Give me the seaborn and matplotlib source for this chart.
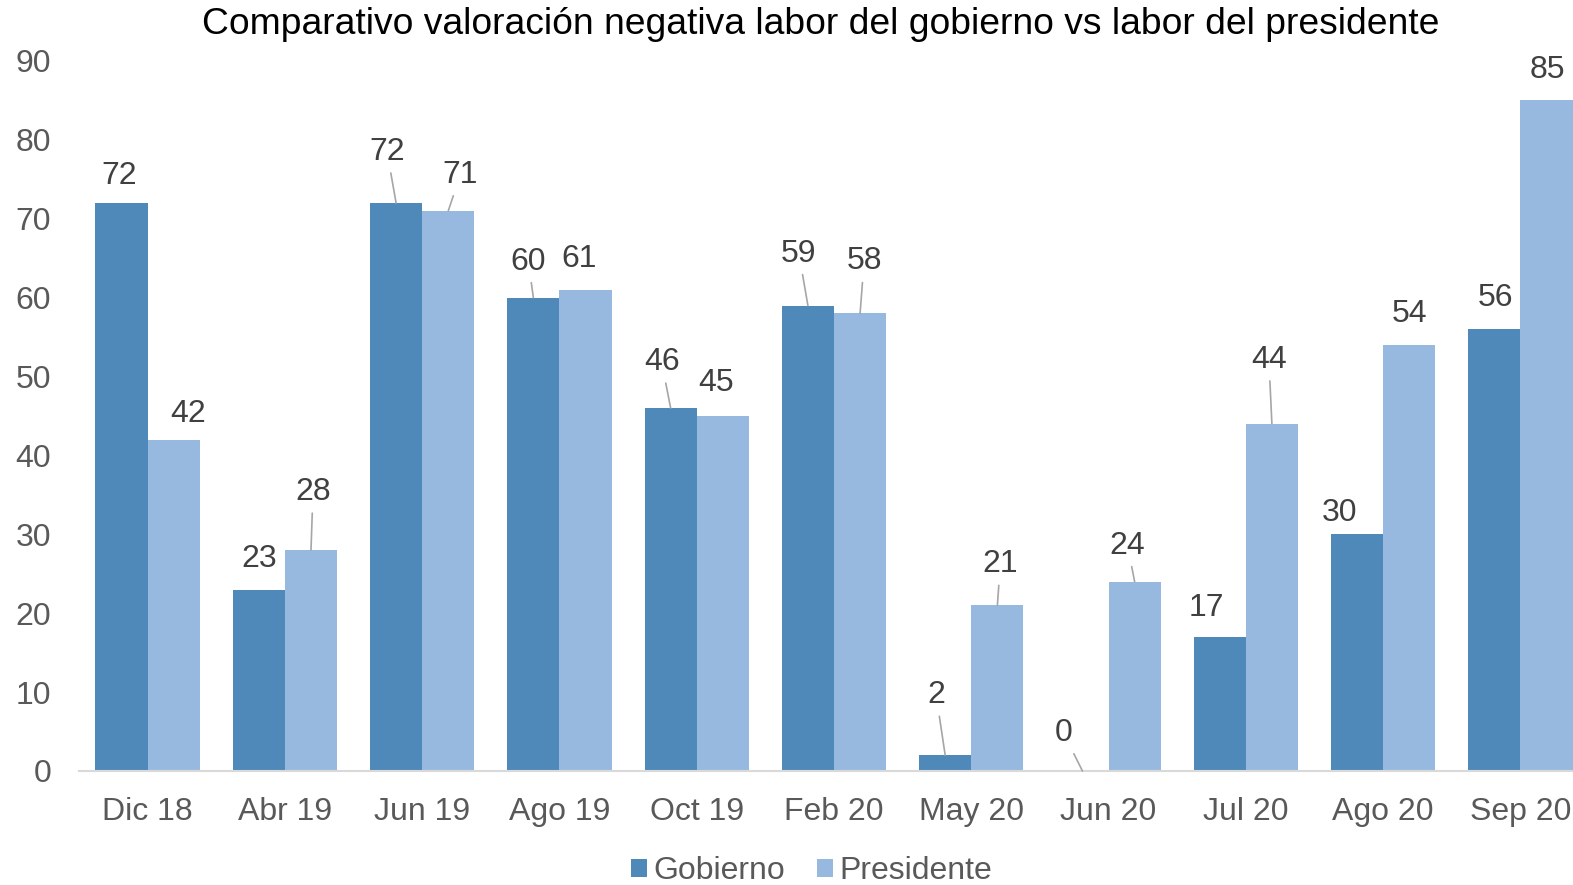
import numpy as np
import pandas as pd
import seaborn as sns
from matplotlib import pyplot as plt

periodos = ['Dic 18', 'Abr 19', 'Jun 19', 'Ago 19', 'Oct 19', 'Feb 20',
            'May 20', 'Jun 20', 'Jul 20', 'Ago 20', 'Sep 20']
gobierno = [72, 23, 72, 60, 46, 59, 2, 0, 17, 30, 56]
presidente = [42, 28, 71, 61, 45, 58, 21, 24, 44, 54, 85]
series = ['Gobierno', 'Presidente']
colores = {'Gobierno': '#4F89BA', 'Presidente': '#98B9DF'}

# label offsets in pixels (dx, dy) and whether a leader line is drawn
off_gob = [(-2, 25, 0), (0, 29, 0), (-9, 49, 1), (-5, 34, 1), (-9, 44, 1), (-9, 50, 1),
           (-9, 58, 1), (-19, 36, 1), (-13, 27, 0), (-17, 19, 0), (1, 29, 0)]
off_pre = [(14, 24, 0), (2, 56, 1), (12, 34, 1), (-6, 29, 0), (-7, 31, 0), (4, 50, 1),
           (3, 39, 1), (-7, 34, 1), (-3, 62, 1), (0, 29, 0), (1, 28, 0)]

df = pd.DataFrame({'periodo': periodos * 2,
                   'serie': ['Gobierno'] * len(periodos) + ['Presidente'] * len(periodos),
                   'valor': gobierno + presidente})

sns.set_style('white')
plt.rcParams['font.family'] = ['Liberation Sans', 'DejaVu Sans']
fs = 23

fig = plt.figure(figsize=(15.73, 8.85), dpi=100)
ax = fig.add_axes([79 / 1573, 114 / 885, 1510 / 1573, 710 / 885])

sns.barplot(data=df, x='periodo', y='valor', hue='serie', palette=colores,
            width=0.76, ax=ax, saturation=1, edgecolor='none')
ax.set_xlim(-0.5, len(periodos) - 0.5)
ax.set_ylim(0, 90)
ax.set_yticks(range(0, 91, 10))
ax.set_xlabel('')
ax.set_ylabel('')
sns.despine(ax=ax, left=True, right=True, top=True)
ax.spines['bottom'].set_color('#D9D9D9')
ax.spines['bottom'].set_linewidth(1.5)
ax.tick_params(axis='y', length=0, pad=20, labelsize=fs, labelcolor='#595959')
ax.tick_params(axis='x', length=0, pad=19, labelsize=fs, labelcolor='#595959')

for cont, vals, offs in zip(ax.containers, [gobierno, presidente], [off_gob, off_pre]):
    for bar, v, (dx, dy, lead) in zip(cont, vals, offs):
        xc = bar.get_x() + bar.get_width() / 2
        ap = dict(arrowstyle='-', color='#A6A6A6', lw=1.2, shrinkA=2, shrinkB=0) if lead else None
        ax.annotate(str(v), xy=(xc, v), xytext=(dx, dy + 2), textcoords='offset pixels',
                    ha='center', va='center', fontsize=fs, color='#404040',
                    arrowprops=ap, annotation_clip=False)

handles, labels = ax.get_legend_handles_labels()
ax.get_legend().remove()
fig.legend(handles, labels, loc='center', bbox_to_anchor=(812 / 1573, 14 / 885),
           ncol=2, frameon=False, fontsize=23, handlelength=0.5, handleheight=0.5,
           handletextpad=0.2, columnspacing=1.0, labelcolor='#595959')

fig.text(821 / 1573, 1 - 25 / 885, 'Comparativo valoración negativa labor del gobierno vs labor del presidente',
         ha='center', va='center', fontsize=26.8, color='black')

fig.savefig('out.png', dpi=100)
